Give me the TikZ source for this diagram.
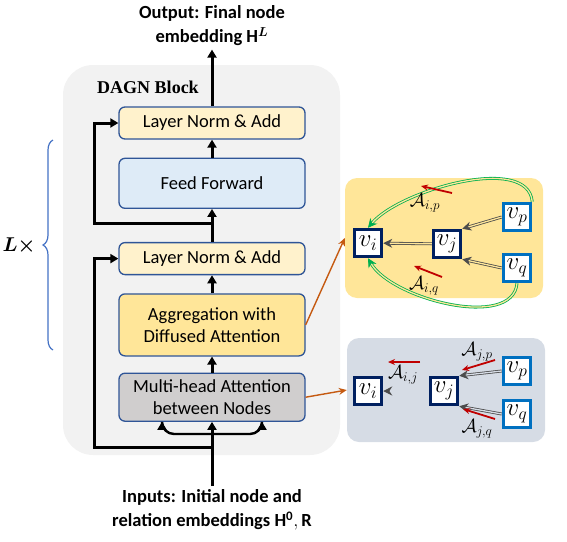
\documentclass[tikz,border=0pt]{standalone}
\usepackage{fix-cm}
\usepackage{fontspec}
\usepackage{amsmath,amssymb}
\setmainfont{Carlito}
\newfontfamily\blockfont{Liberation Serif}
\usetikzlibrary{arrows.meta,positioning,decorations.pathreplacing,calc}

\definecolor{blockgray}{HTML}{F2F2F2}
\definecolor{lnyellow}{HTML}{FFF2CC}
\definecolor{ffblue}{HTML}{DEEBF7}
\definecolor{aggyellow}{HTML}{FFE699}
\definecolor{mhagray}{HTML}{D0CECE}
\definecolor{boxedge}{HTML}{2F5597}
\definecolor{panelblue}{HTML}{D6DCE5}
\definecolor{navy}{HTML}{002060}
\definecolor{vblue}{HTML}{0070C0}
\definecolor{linkorange}{HTML}{C55A11}
\definecolor{attred}{HTML}{C00000}
\definecolor{diffgreen}{HTML}{00B050}
\definecolor{bracecol}{HTML}{4472C4}

\begin{document}
\begin{tikzpicture}[x=1pt,y=-1pt,
    layer/.style = {draw=boxedge, line width=1.3pt, rounded corners=6pt,
        minimum width=186pt, align=center, inner sep=2pt,
        font=\fontsize{18.5}{22}\selectfont},
    flow/.style = {line width=3pt, -{Triangle[length=8pt,width=9pt]}},
    title/.style = {align=center, font=\bfseries\fontsize{18.5}{24}\selectfont},
    panel/.style = {rounded corners=12pt, inner sep=0pt},
    vnode/.style = {draw=navy, line width=3.5pt, fill=white, minimum size=27pt,
        inner sep=0pt, font=\fontsize{25}{27}\selectfont},
    vleaf/.style = {vnode, draw=vblue},
    dbl/.style = {draw=black!70, line width=0.8pt, double=#1, double distance=1.3pt,
        -{Stealth[length=9pt,width=9pt]}},
    diff/.style = {draw=diffgreen, line width=0.8pt, double=aggyellow, double distance=1.3pt,
        -{Stealth[length=9pt,width=9pt]}},
    att/.style = {attred, line width=1.8pt, -{Stealth[length=7pt,width=6pt]}},
    attlabel/.style = {font=\fontsize{19}{21}\selectfont, inner sep=0pt},
    link/.style = {linkorange, line width=1.4pt, -{Stealth[length=8pt,width=7pt]}}]
    \useasboundingbox (0,0) rectangle (567,541);

    % DAGN block
    \fill[blockgray, rounded corners=30pt] (63,65) rectangle (340,455);
    \node[font=\blockfont\bfseries\fontsize{18}{20}\selectfont] (blk) at (148,87) {DAGN Block};

    \node[layer, fill=lnyellow, minimum height=32pt] (ln2) at (212,123) {Layer Norm \& Add};
    \node[layer, fill=ffblue, minimum height=50pt, below=18pt of ln2] (ff) {Feed Forward};
    \node[layer, fill=lnyellow, minimum height=32pt, below=33pt of ff] (ln1) {Layer Norm \& Add};
    \node[layer, fill=aggyellow, minimum height=62pt, below=18pt of ln1] (agg) {Aggregation with\\Diffused Attention};
    \node[layer, fill=mhagray, minimum height=48pt, below=16pt of agg] (mha) {Multi-head Attention\\between Nodes};

    \node[title] (out) at (212,26) {Output: Final node\\embedding $\mathbf{H}^{\boldsymbol{L}}$};
    \node[title] (inp) at (212,510) {Inputs: Initial node and\\relation embeddings $\mathbf{H}^{\mathbf{0}}, \mathbf{R}$};

    % main flow
    \coordinate (split1) at (212,447);
    \coordinate (fork) at (212,434);
    \coordinate (split2) at (212,223);
    \draw[flow] (inp.north) -- (mha.south);
    \draw[flow] (mha.north) -- (agg.south);
    \draw[flow] (agg.north) -- (ln1.south);
    \draw[flow] (ln1.north) -- (ff.south);
    \draw[flow] (ff.north) -- (ln2.south);
    \draw[flow] (ln2.north) -- (out.south);
    \draw[flow, line join=miter] (split1) -| ($(ln1.west)+(-24,0)$) -- (ln1.west);
    \draw[flow, line join=miter] (split2) -| ($(ln2.west)+(-24,0)$) -- (ln2.west);
    \draw[flow, line width=2.4pt, rounded corners=12pt] (fork) -| ($(mha.south)+(-50,0)$);
    \draw[flow, line width=2.4pt, rounded corners=12pt] (fork) -| ($(mha.south)+(50,0)$);

    % repeat brace
    \draw[bracecol, line width=1.2pt, decorate, decoration={brace, amplitude=10pt}]
        (53,350) -- (53,140);
    \node[font=\fontsize{20}{22}\selectfont] (rep) at (19,246) {$\boldsymbol{L}\boldsymbol{\times}$};

    % diffused attention panel
    \node[panel, fill=aggyellow, minimum width=198pt, minimum height=120pt] (dpanel) at (444,238) {};
    \node[vnode] (dvi) at (368,243) {$v_i$};
    \node[vnode] (dvj) at (447,244) {$v_j$};
    \node[vleaf] (dvp) at (517,217) {$v_p$};
    \node[vleaf] (dvq) at (517,268) {$v_q$};
    \draw[dbl=aggyellow] (dvj) -- (dvi);
    \draw[dbl=aggyellow] (dvp.west) -- (dvj.north east);
    \draw[dbl=aggyellow] (dvq.west) -- (dvj.south east);
    \draw[diff] (dvp.north east) to[out=95, in=50, looseness=0.75] (dvi.north);
    \draw[diff] (dvq.south) to[out=-95, in=-60, looseness=0.8] (dvi.south);
    \coordinate (aip1) at (452,193);
    \coordinate (aip2) at (421,186);
    \coordinate (aiq1) at (442,277);
    \coordinate (aiq2) at (414,266);
    \draw[att] (aip1) -- (aip2);
    \draw[att] (aiq1) -- (aiq2);
    \node[attlabel] (aip) at (425,203) {$\mathcal{A}_{i,p}$};
    \node[attlabel] (aiq) at (424,286) {$\mathcal{A}_{i,q}$};

    % multi-head attention panel
    \node[panel, fill=panelblue, minimum width=198pt, minimum height=104pt] (mpanel) at (446,390) {};
    \node[vnode] (mvi) at (368,391) {$v_i$};
    \node[vnode] (mvj) at (444,391) {$v_j$};
    \node[vleaf] (mvp) at (517,371) {$v_p$};
    \node[vleaf] (mvq) at (517,414) {$v_q$};
    \draw[dbl=panelblue] (mvj) -- (mvi);
    \draw[dbl=panelblue] (mvp.west) -- (mvj.north east);
    \draw[dbl=panelblue] (mvq.west) -- (mvj.south east);
    \coordinate (aij1) at (420,362);
    \coordinate (aij2) at (388,362);
    \coordinate (ajp1) at (495,360);
    \coordinate (ajp2) at (462,370);
    \coordinate (ajq1) at (495,419);
    \coordinate (ajq2) at (463,409);
    \draw[att] (aij1) -- (aij2);
    \draw[att] (ajp1) -- (ajp2);
    \draw[att] (ajq1) -- (ajq2);
    \node[attlabel] (aij) at (403,375) {$\mathcal{A}_{i,j}$};
    \node[attlabel] (ajp) at (477,352) {$\mathcal{A}_{j,p}$};
    \node[attlabel] (ajq) at (477,429) {$\mathcal{A}_{j,q}$};

    % links to panels
    \draw[link] (agg.east) -- (dpanel.west);
    \draw[link] (mha.east) -- (mpanel.west);
\end{tikzpicture}
\end{document}
